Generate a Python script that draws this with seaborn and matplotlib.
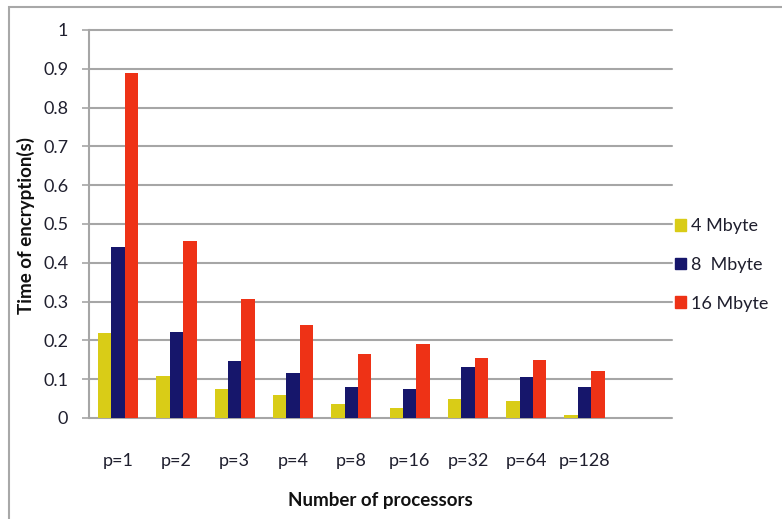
import matplotlib
matplotlib.use("Agg")
import matplotlib.pyplot as plt
import matplotlib.patches as mpatches
import seaborn as sns
import pandas as pd

# Encryption time (seconds) per number of processors and file size
processors = ["p=1", "p=2", "p=3", "p=4", "p=8", "p=16", "p=32", "p=64", "p=128"]
sizes = ["4 Mbyte", "8  Mbyte", "16 Mbyte"]
time_4mb = [0.22, 0.107, 0.076, 0.058, 0.035, 0.027, 0.050, 0.044, 0.009]
time_8mb = [0.44, 0.222, 0.147, 0.116, 0.081, 0.075, 0.132, 0.106, 0.080]
time_16mb = [0.89, 0.457, 0.306, 0.240, 0.164, 0.190, 0.155, 0.150, 0.120]
y_ticks = [0, 0.1, 0.2, 0.3, 0.4, 0.5, 0.6, 0.7, 0.8, 0.9, 1]
y_tick_labels = ["0", "0.1", "0.2", "0.3", "0.4", "0.5", "0.6", "0.7", "0.8", "0.9", "1"]
palette = ["#D9CC17", "#16166B", "#EE3216"]

df = pd.DataFrame({
    "Processors": processors * 3,
    "Size": [sizes[0]] * 9 + [sizes[1]] * 9 + [sizes[2]] * 9,
    "Time": time_4mb + time_8mb + time_16mb,
})

sns.set_style("white")
plt.rcParams["font.family"] = ["Lato", "DejaVu Sans"]

W, H = 782, 519
fig = plt.figure(figsize=(W / 100, H / 100), dpi=100)
ax = fig.add_axes([89 / W, 1 - 418 / H, (672 - 89) / W, (418 - 30) / H])

sns.barplot(data=df, x="Processors", y="Time", hue="Size", hue_order=sizes,
            order=processors, palette=palette, width=0.69, gap=0,
            linewidth=0, saturation=1, errorbar=None, ax=ax)

# leave room for one more (empty) category slot on the right
ax.set_xlim(-0.5, 9.5)
ax.set_ylim(0, 1)
ax.set_yticks(y_ticks)
ax.set_yticklabels(y_tick_labels)

grid_color = "#A6A6A6"
ax.yaxis.grid(True, color=grid_color, linewidth=1.5)
for gl in ax.get_ygridlines():
    gl.set_clip_on(False)
ax.set_axisbelow(True)
for side in ["top", "right", "bottom"]:
    ax.spines[side].set_visible(False)
ax.spines["left"].set_color(grid_color)
ax.spines["left"].set_linewidth(1.5)

ax.tick_params(axis="y", length=5, width=1.2, color=grid_color, pad=10,
               labelsize=13, labelcolor="#1f1f2e", direction="out", left=True)
ax.tick_params(axis="x", length=0, pad=25, labelsize=13, labelcolor="#1f1f2e")

ax.set_xlabel("Number of processors", fontsize=13.5, fontweight="bold", color="#111111")
ax.xaxis.set_label_coords(0.5, -0.19)
ax.set_ylabel("Time of encryption(s)", fontsize=13.5, fontweight="bold", color="#111111")
ax.yaxis.set_label_coords((35 - 89) / (672 - 89), (418 - 226) / (418 - 30))

ax.get_legend().remove()
handles = [mpatches.Patch(color=c, label=s) for c, s in zip(palette, sizes)]
fig.legend(handles=handles, loc="center left", bbox_to_anchor=(675 / W, 1 - 265 / H),
           frameon=False, fontsize=13, handlelength=0.6, handleheight=0.6,
           handletextpad=0.3, labelspacing=1.25, borderpad=0, borderaxespad=0,
           labelcolor="#1f1f2e")

# outer chart frame
fig.add_artist(mpatches.Rectangle((9 / W, -0.1), 1.2, 1 - 7 / H + 0.1,
                                  transform=fig.transFigure, fill=False,
                                  edgecolor="#A8A8A8", linewidth=1.5))

fig.savefig("out.png", dpi=100)
